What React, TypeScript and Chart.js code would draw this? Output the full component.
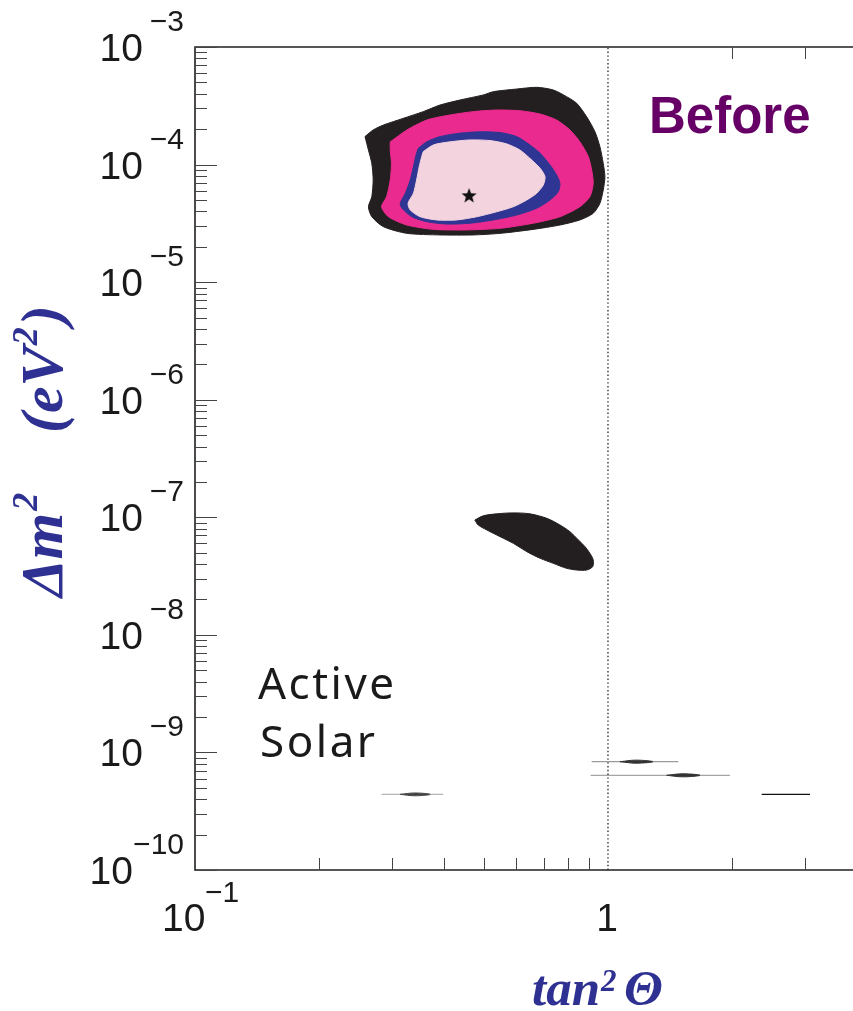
import React, { useEffect, useRef } from "react";
import { Chart, registerables } from "chart.js";

Chart.register(...registerables);

// ---- axis ranges ----
const X_MIN = 0.1;
const X_MAX = 3.92;
const Y_MIN = 1e-10;
const Y_MAX = 1e-3;

// ---- ticks / labels ----
const Y_DECADE_EXPONENTS = [-3, -4, -5, -6, -7, -8, -9, -10];
const MINOR_MANTISSAS = [2, 3, 4, 5, 6, 7, 8, 9];
const X_BOTTOM_MINOR = [0.2, 0.3, 0.4, 0.5, 0.6, 0.7, 0.8, 0.9, 2, 3];
const X_TOP_MINOR = [2, 3];
const X_LABEL_VALUES = [0.1, 1];
const X_LABEL_BASES = ["10", "1"];
const X_LABEL_EXPS = ["−1", ""];

// ---- allowed regions (tan^2 theta, delta m^2) ----
const outerX = [0.258, 0.27, 0.286, 0.319, 0.357, 0.392, 0.438, 0.499, 0.528, 0.601, 0.672, 0.737, 0.794, 0.84, 0.888, 0.93, 0.956, 0.974, 0.983, 0.974, 0.956, 0.921, 0.855, 0.765, 0.659, 0.548, 0.472, 0.392, 0.326, 0.286, 0.268, 0.263, 0.268, 0.27, 0.268, 0.263];
const outerY = [1.73e-4, 1.97e-4, 2.17e-4, 2.47e-4, 2.82e-4, 3.21e-4, 3.54e-4, 3.91e-4, 4.17e-4, 4.39e-4, 4.54e-4, 4.31e-4, 3.78e-4, 3.32e-4, 2.55e-4, 1.9e-4, 1.42e-4, 1.02e-4, 7.88e-5, 6.08e-5, 4.68e-5, 3.85e-5, 3.38e-5, 3.06e-5, 2.81e-5, 2.6e-5, 2.52e-5, 2.52e-5, 2.6e-5, 2.96e-5, 3.6e-5, 4.38e-5, 5.33e-5, 7.39e-5, 1.02e-4, 1.33e-4];

const magentaX = [0.297, 0.326, 0.364, 0.414, 0.472, 0.538, 0.612, 0.685, 0.751, 0.809, 0.855, 0.896, 0.913, 0.921, 0.904, 0.855, 0.765, 0.659, 0.548, 0.455, 0.378, 0.326, 0.294, 0.283, 0.291, 0.297, 0.299, 0.297];
const magentaY = [1.56e-4, 1.97e-4, 2.39e-4, 2.64e-4, 2.82e-4, 2.91e-4, 2.87e-4, 2.69e-4, 2.39e-4, 1.97e-4, 1.56e-4, 1.17e-4, 8.99e-5, 6.93e-5, 5.33e-5, 4.38e-5, 3.6e-5, 3.17e-5, 2.87e-5, 2.78e-5, 2.81e-5, 3.06e-5, 3.6e-5, 4.38e-5, 5.33e-5, 7.39e-5, 1.02e-4, 1.33e-4];

const blueX = [0.347, 0.364, 0.392, 0.438, 0.49, 0.548, 0.601, 0.647, 0.685, 0.724, 0.751, 0.765, 0.758, 0.724, 0.672, 0.601, 0.528, 0.463, 0.407, 0.364, 0.335, 0.317, 0.314, 0.323, 0.332, 0.338, 0.343];
const blueY = [1.37e-4, 1.56e-4, 1.73e-4, 1.85e-4, 1.9e-4, 1.87e-4, 1.73e-4, 1.47e-4, 1.25e-4, 9.91e-5, 8.15e-5, 6.93e-5, 5.88e-5, 5.0e-5, 4.25e-5, 3.72e-5, 3.38e-5, 3.17e-5, 3.12e-5, 3.27e-5, 3.6e-5, 4.25e-5, 4.68e-5, 5.7e-5, 7.39e-5, 9.59e-5, 1.21e-4];

const pinkX = [0.357, 0.378, 0.414, 0.463, 0.518, 0.568, 0.612, 0.647, 0.685, 0.704, 0.697, 0.672, 0.636, 0.59, 0.538, 0.481, 0.43, 0.385, 0.351, 0.332, 0.328, 0.338, 0.344, 0.349, 0.354];
const pinkY = [1.29e-4, 1.47e-4, 1.56e-4, 1.62e-4, 1.6e-4, 1.5e-4, 1.33e-4, 1.13e-4, 9.3e-5, 7.88e-5, 6.7e-5, 5.7e-5, 5.0e-5, 4.38e-5, 3.97e-5, 3.6e-5, 3.38e-5, 3.38e-5, 3.6e-5, 4.11e-5, 4.68e-5, 5.7e-5, 7.39e-5, 9.59e-5, 1.17e-4];

const lowX = [0.476, 0.499, 0.538, 0.59, 0.647, 0.711, 0.765, 0.809, 0.848, 0.88, 0.904, 0.921, 0.918, 0.888, 0.84, 0.794, 0.737, 0.685, 0.636, 0.59, 0.548, 0.509, 0.485];
const lowY = [9.48e-8, 1.03e-7, 1.07e-7, 1.09e-7, 1.07e-7, 9.8e-8, 8.6e-8, 7.54e-8, 6.41e-8, 5.62e-8, 4.94e-8, 4.33e-8, 3.8e-8, 3.56e-8, 3.56e-8, 3.68e-8, 4.06e-8, 4.48e-8, 5.1e-8, 6.0e-8, 6.84e-8, 7.8e-8, 8.6e-8];

// thin vacuum-oscillation slivers
const sliverAX = [0.913, 1.48];
const sliverAY = [8.34e-10, 8.34e-10];
const sliverBX = [0.908, 1.974];
const sliverBY = [6.39e-10, 6.39e-10];
const sliverCX = [0.283, 0.399];
const sliverCY = [4.4e-10, 4.4e-10];
const sliverDX = [2.356, 3.084];
const sliverDY = [4.4e-10, 4.4e-10];
const lensAX = [1.069, 1.17, 1.285, 1.17];
const lensAY = [8.34e-10, 8.6e-10, 8.34e-10, 8.1e-10];
const lensBX = [1.387, 1.52, 1.671, 1.52];
const lensBY = [6.39e-10, 6.58e-10, 6.39e-10, 6.2e-10];
const lensCX = [0.314, 0.341, 0.371, 0.341];
const lensCY = [4.4e-10, 4.52e-10, 4.4e-10, 4.28e-10];

// best fit point
const bestX = [0.461];
const bestY = [5.4e-5];

// tan^2 theta = 1 reference line
const refX = [1, 1];
const refY = [Y_MIN, Y_MAX];

const C_BLACK = "#231f20";
const C_MAGENTA = "#ea2a8e";
const C_BLUE = "#2f3592";
const C_PINK = "#f2d3de";
const C_TITLE = "#2e3192";
const SANS = "'Liberation Sans', Arial, sans-serif";
const SERIF = "'Liberation Serif', 'Times New Roman', serif";

function pts(xs: number[], ys: number[]) {
  return xs.map((x, i) => ({ x, y: ys[i] }));
}
function closed(xs: number[], ys: number[]) {
  const p = pts(xs, ys);
  p.push({ ...p[0] });
  return p;
}

function region(label: string, xs: number[], ys: number[], color: string, order: number, tension = 0.25) {
  return {
    type: "line" as const,
    label,
    data: closed(xs, ys),
    fill: "shape",
    backgroundColor: color,
    borderColor: color,
    borderWidth: 1,
    pointRadius: 0,
    tension,
    order,
  };
}

function segment(label: string, xs: number[], ys: number[], color: string, width: number, order: number, dash: number[] = []) {
  return {
    type: "line" as const,
    label,
    data: pts(xs, ys),
    fill: false,
    borderColor: color,
    borderWidth: width,
    borderDash: dash,
    pointRadius: 0,
    tension: 0,
    order,
  };
}

function makeStar(r: number) {
  const c = document.createElement("canvas");
  c.width = c.height = Math.ceil(r * 2 + 2);
  const g = c.getContext("2d")!;
  g.fillStyle = "#111";
  g.beginPath();
  for (let i = 0; i < 10; i++) {
    const rad = i % 2 ? r * 0.42 : r;
    const a = -Math.PI / 2 + (i * Math.PI) / 5;
    g.lineTo(r + 1 + rad * Math.cos(a), r + 1 + rad * Math.sin(a));
  }
  g.closePath();
  g.fill();
  return c;
}

const framePlugin = {
  id: "frame",
  afterDraw(chart: any) {
    const { ctx, chartArea: a } = chart;
    const xs = chart.scales.x;
    const ys = chart.scales.y;
    ctx.save();
    // axis lines
    ctx.strokeStyle = C_BLACK;
    ctx.lineWidth = 1.6;
    ctx.beginPath();
    ctx.moveTo(a.right + 2, a.top);
    ctx.lineTo(a.left, a.top);
    ctx.lineTo(a.left, a.bottom);
    ctx.lineTo(a.right + 2, a.bottom);
    ctx.stroke();

    // y ticks
    ctx.lineWidth = 1;
    ctx.strokeStyle = "#444";
    ctx.beginPath();
    for (const e of Y_DECADE_EXPONENTS) {
      const py = Math.round(ys.getPixelForValue(Math.pow(10, e))) + 0.5;
      ctx.moveTo(a.left, py);
      ctx.lineTo(a.left + 22, py);
      if (e < -3) {
        for (const m of MINOR_MANTISSAS) {
          const v = m * Math.pow(10, e);
          const pm = Math.round(ys.getPixelForValue(v)) + 0.5;
          ctx.moveTo(a.left, pm);
          ctx.lineTo(a.left + 12, pm);
        }
      }
    }
    // x ticks
    for (const v of X_BOTTOM_MINOR) {
      const px = Math.round(xs.getPixelForValue(v)) + 0.5;
      ctx.moveTo(px, a.bottom);
      ctx.lineTo(px, a.bottom - 12);
    }
    for (const v of X_TOP_MINOR) {
      const px = Math.round(xs.getPixelForValue(v)) + 0.5;
      ctx.moveTo(px, a.top);
      ctx.lineTo(px, a.top + 12);
    }
    ctx.stroke();

    // y tick labels
    ctx.fillStyle = "#1a1a1a";
    ctx.textBaseline = "alphabetic";
    for (const e of Y_DECADE_EXPONENTS) {
      const py = ys.getPixelForValue(Math.pow(10, e));
      const expText = "−" + Math.abs(e);
      ctx.font = `30px ${SANS}`;
      ctx.textAlign = "right";
      ctx.fillText(expText, 184, py - 16);
      ctx.font = `39px ${SANS}`;
      ctx.fillText("10", Math.abs(e) >= 10 ? 133 : 143, py + 14);
    }
    // x tick labels
    X_LABEL_VALUES.forEach((v, i) => {
      const px = xs.getPixelForValue(v);
      const base = X_LABEL_BASES[i];
      const exp = X_LABEL_EXPS[i];
      ctx.font = `39px ${SANS}`;
      if (exp) {
        ctx.textAlign = "left";
        ctx.fillText(base, px - 33, 931);
        ctx.font = `30px ${SANS}`;
        ctx.fillText(exp, px + 10, 902);
      } else {
        ctx.textAlign = "center";
        ctx.fillText(base, px - 1, 931);
      }
    });

    // x axis title
    ctx.fillStyle = C_TITLE;
    ctx.textAlign = "left";
    ctx.font = `italic bold 51px ${SERIF}`;
    ctx.fillText("tan", 532, 1005);
    const wTan = ctx.measureText("tan").width;
    ctx.font = `italic bold 31px ${SERIF}`;
    ctx.fillText("2", 532 + wTan + 1, 991);
    ctx.font = `italic bold 51px ${SERIF}`;
    ctx.fillText("Θ", 624, 1005);

    // y axis title
    ctx.save();
    ctx.translate(62, 597);
    ctx.rotate(-Math.PI / 2);
    ctx.font = `italic bold 60px ${SERIF}`;
    ctx.fillText("Δm", 0, 0);
    const wDm = ctx.measureText("Δm").width;
    ctx.font = `italic bold 36px ${SERIF}`;
    ctx.fillText("2", wDm + 2, -25);
    ctx.font = `italic bold 60px ${SERIF}`;
    ctx.fillText("(eV", 164, 0);
    const wEv = ctx.measureText("(eV").width;
    ctx.font = `italic bold 36px ${SERIF}`;
    ctx.fillText("2", 164 + wEv + 1, -25);
    const w2 = ctx.measureText("2").width;
    ctx.font = `italic bold 60px ${SERIF}`;
    ctx.fillText(")", 164 + wEv + w2 + 3, 0);
    ctx.restore();

    // annotations
    ctx.fillStyle = "#660066";
    ctx.font = `bold 51px ${SANS}`;
    ctx.textAlign = "left";
    ctx.fillText("Before", 649, 133);

    ctx.fillStyle = "#1a1a1a";
    ctx.font = `44px 'Noto Sans', sans-serif`;
    (ctx as any).letterSpacing = "2.5px";
    ctx.fillText("Active", 258, 699);
    ctx.fillText("Solar", 260, 757);
    (ctx as any).letterSpacing = "0px";
    ctx.restore();
  },
};

export default function App() {
  const ref = useRef<HTMLCanvasElement | null>(null);
  useEffect(() => {
    document.body.style.margin = "0";
    const canvas = ref.current!;
    const star = makeStar(8);
    const chart = new Chart(canvas, {
      type: "line",
      data: {
        datasets: [
          {
            type: "scatter",
            label: "best fit",
            data: pts(bestX, bestY),
            pointStyle: star as any,
            pointRadius: 8,
            order: 0,
          } as any,
          region("inner", pinkX, pinkY, C_PINK, 1),
          region("blue", blueX, blueY, C_BLUE, 2),
          region("magenta", magentaX, magentaY, C_MAGENTA, 3),
          region("outer", outerX, outerY, C_BLACK, 4),
          region("low", lowX, lowY, C_BLACK, 4, 0.3),
          segment("tan2=1", refX, refY, "#111", 1.2, 5, [1.4, 2.4]),
          region("lensA", lensAX, lensAY, "#333", 6, 0.4),
          region("lensB", lensBX, lensBY, "#333", 6, 0.4),
          region("lensC", lensCX, lensCY, "#444", 6, 0.4),
          segment("sliverA", sliverAX, sliverAY, "#9a9a9a", 1.3, 7),
          segment("sliverB", sliverBX, sliverBY, "#a5a5a5", 1.3, 7),
          segment("sliverC", sliverCX, sliverCY, "#b5b5b5", 1.2, 7),
          segment("sliverD", sliverDX, sliverDY, "#111", 1.4, 7),
        ] as any,
      },
      options: {
        responsive: false,
        animation: false,
        devicePixelRatio: 1,
        events: [],
        layout: { autoPadding: false, padding: { left: 195, top: 47, right: 0, bottom: 141 } },
        scales: {
          x: { type: "logarithmic", min: X_MIN, max: X_MAX, display: false },
          y: { type: "logarithmic", min: Y_MIN, max: Y_MAX, display: false },
        },
        plugins: { legend: { display: false }, tooltip: { enabled: false } },
      } as any,
      plugins: [framePlugin],
    });
    return () => chart.destroy();
  }, []);
  return <canvas ref={ref} width={853} height={1011} style={{ display: "block" }} />;
}
